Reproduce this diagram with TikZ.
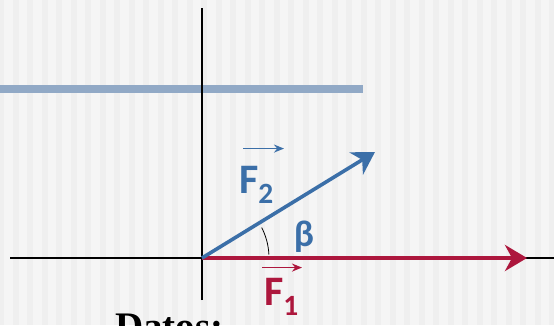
\documentclass[tikz,border=0pt]{standalone}
\usepackage{fontspec}
\setmainfont{Carlito}
\newfontfamily\datosfont{Liberation Serif}
\usetikzlibrary{arrows.meta}

\definecolor{fuerzaazul}{HTML}{3B6FA8}
\definecolor{fuerzaroja}{HTML}{AD173D}
\definecolor{barra}{HTML}{91A9C6}

\begin{document}
\begin{tikzpicture}[x=1pt,y=1pt,
  eje/.style={black, line width=1.3pt},
  vector/.style={line width=3.6pt, -{Stealth[length=22pt,width=26pt,inset=7pt]}},
  flechita/.style={line width=1.7pt, -{Stealth[length=10pt,width=8pt]}},
  etiqueta/.style={inner sep=0pt, anchor=base west, font=\fontsize{42}{48}\selectfont\bfseries}]
\useasboundingbox (0,0) rectangle (554,325);
% fondo rayado
\fill[white!96!black] (0,0) rectangle (554,325);
\foreach \i in {0,...,38}
  \fill[white!91!black, opacity=0.45] (\i*14.5-2,0) rectangle (\i*14.5+4,325);
\coordinate (o) at (202,67);
\coordinate (arriba) at (202,317);
\coordinate (abajo) at (202,25);
\coordinate (izq) at (10,67);
\coordinate (der) at (554,67);
\coordinate (p1) at (527,67);
\coordinate (p2) at (375,173);
\coordinate (b0) at (0,236);
\coordinate (b1) at (363,236);
\draw[barra, line width=8pt] (b0) -- (b1);
\draw[eje] (abajo) -- (arriba);
\draw[eje] (izq) -- (der);
\draw[vector, fuerzaroja] (o) -- (p1);
\draw[vector, fuerzaazul] (o) -- (p2);
\draw[black, line width=0.8pt] ([shift={(3:67)}]o) arc[start angle=3, end angle=27, radius=67];
\node[etiqueta, fuerzaazul] (F2) at (239,132) {F\textsubscript{2}};
\node[etiqueta, fuerzaroja] (F1) at (264,20) {F\textsubscript{1}};
\draw[flechita, fuerzaazul] ([xshift=4pt,yshift=17pt]F2.north west) -- ([xshift=45pt,yshift=17pt]F2.north west);
\draw[flechita, fuerzaroja] ([xshift=-2pt,yshift=10pt]F1.north west) -- ([xshift=38pt,yshift=10pt]F1.north west);
\node[inner sep=0pt, fuerzaazul, font=\fontsize{37}{44}\selectfont\bfseries] (beta) at (304,88) {β};
\node[inner sep=0pt, anchor=base west, font=\datosfont\fontsize{39}{46}\selectfont\bfseries] (datos) at (115,-14) {Datos:};
\end{tikzpicture}
\end{document}
